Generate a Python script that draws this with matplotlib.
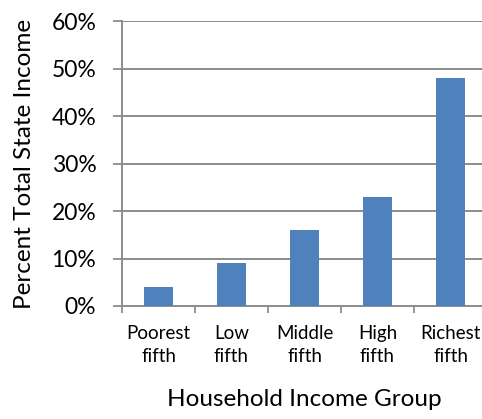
import matplotlib
matplotlib.use("Agg")
import matplotlib.pyplot as plt
from matplotlib.ticker import PercentFormatter

groups = ["Poorest\nfifth", "Low\nfifth", "Middle\nfifth", "High\nfifth", "Richest\nfifth"]
share = [4, 9, 16, 23, 48]

plt.rcParams['font.family'] = ['Lato', 'DejaVu Sans']

fig = plt.figure(figsize=(4.82, 4.19), dpi=100)
# plot area runs a little past the right edge, like the original
ax = fig.add_axes([122/482, 1 - 306/419, 365/482, 285/419])

x = list(range(len(groups)))
ax.bar(x, share, width=0.4, color='#4F81BD', zorder=3)

ax.set_xlim(-0.5, len(groups) - 0.5)
ax.set_ylim(0, 60)
ax.set_yticks(range(0, 61, 10))
ax.yaxis.set_major_formatter(PercentFormatter(decimals=0))
ax.grid(axis='y', color='#8c8c8c', linewidth=1.4, zorder=0)

ax.set_xticks(x)
ax.set_xticklabels(groups, fontsize=13.5, linespacing=1.4)
ax.set_xticks([i + 0.5 for i in range(-1, len(groups))], minor=True)
ax.tick_params(axis='x', which='major', length=0, pad=14)
ax.tick_params(axis='x', which='minor', length=5, width=1.3, color='#8c8c8c')
ax.tick_params(axis='y', length=6.5, width=1.3, color='#8c8c8c', labelsize=16.5, pad=12)

for s in ['top', 'right']:
    ax.spines[s].set_visible(False)
for s in ['left', 'bottom']:
    ax.spines[s].set_color('#8c8c8c')
    ax.spines[s].set_linewidth(1.4)

ax.set_ylabel('Percent Total State Income', fontsize=17.5, labelpad=12)
ax.set_xlabel('Household Income Group', fontsize=17.5, labelpad=17)

fig.savefig('out.png', dpi=100)
